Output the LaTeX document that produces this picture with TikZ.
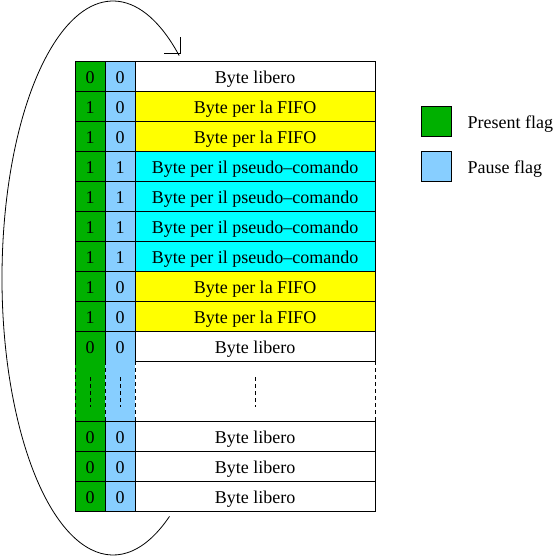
\documentclass[tikz,border=0pt]{standalone}
\usepackage{fontspec}
\setmainfont{Liberation Serif}
\usetikzlibrary{positioning}

\definecolor{presentgreen}{RGB}{0,176,0}
\definecolor{pauseblue}{RGB}{135,206,255}
\definecolor{fifoyellow}{RGB}{255,255,0}
\definecolor{pseudocyan}{RGB}{0,255,255}

\tikzset{
  celltext/.style={text height=14pt, text depth=0pt},
  flagcell/.style={draw, celltext, line width=0.8pt, minimum width=30pt, minimum height=30pt,
    inner sep=0pt, outer sep=0pt},
  bytecell/.style={flagcell, minimum width=240pt},
  legbox/.style={draw, line width=0.8pt, minimum size=30pt, inner sep=0pt},
  gapline/.style={line width=0.8pt, dash pattern=on 4pt off 3pt}
}

\begin{document}
\begin{tikzpicture}[x=1pt, y=-1pt, font=\fontsize{18}{21}\selectfont]
\useasboundingbox (0,0) rectangle (560,557);

% memory rows
\foreach \r/\p/\q/\txt/\bg in {0/0/0/Byte libero/white,
    1/1/0/Byte per la FIFO/fifoyellow, 2/1/0/Byte per la FIFO/fifoyellow,
    3/1/1/Byte per il pseudo--comando/pseudocyan, 4/1/1/Byte per il pseudo--comando/pseudocyan,
    5/1/1/Byte per il pseudo--comando/pseudocyan, 6/1/1/Byte per il pseudo--comando/pseudocyan,
    7/1/0/Byte per la FIFO/fifoyellow, 8/1/0/Byte per la FIFO/fifoyellow,
    9/0/0/Byte libero/white, 12/0/0/Byte libero/white,
    13/0/0/Byte libero/white, 14/0/0/Byte libero/white}{
  \node[flagcell, fill=presentgreen, anchor=north west] (pres\r) at (75,61+30*\r) {\p};
  \node[flagcell, fill=pauseblue, right=0pt of pres\r] (paus\r) {\q};
  \node[bytecell, fill=\bg, right=0pt of paus\r] (byte\r) {\txt};
}

% gap
\fill[presentgreen] (pres9.south west) rectangle (pres12.north east);
\fill[pauseblue] (paus9.south west) rectangle (paus12.north east);
\foreach \a/\b in {pres9.south west/pres12.north west, pres9.south east/pres12.north east,
    paus9.south east/paus12.north east, byte9.south east/byte12.north east}
  \draw[gapline] (\a) -- (\b);
\foreach \c in {pres9, paus9, byte9}
  \draw[gapline] (\c.south) ++(0,16) -- ++(0,30);

% legend
\node[legbox, fill=presentgreen] (legpres) at (436,121) {};
\node[right=13pt of legpres, inner sep=3pt, celltext] (legprestxt) {Present flag};
\node[legbox, fill=pauseblue] (legpaus) at (436,166) {};
\node[right=13pt of legpaus, inner sep=3pt, celltext] (legpaustxt) {Pause flag};

% wrap-around
\coordinate (looptip) at (180,53);
\draw[line width=0.8pt] (169.5,516.4) arc[start angle=59.4, end angle=306.6, x radius=111, y radius=277];
\draw[line width=0.8pt] (looptip) ++(-16,0) -- (looptip) -- ++(0,-16);
\end{tikzpicture}
\end{document}
